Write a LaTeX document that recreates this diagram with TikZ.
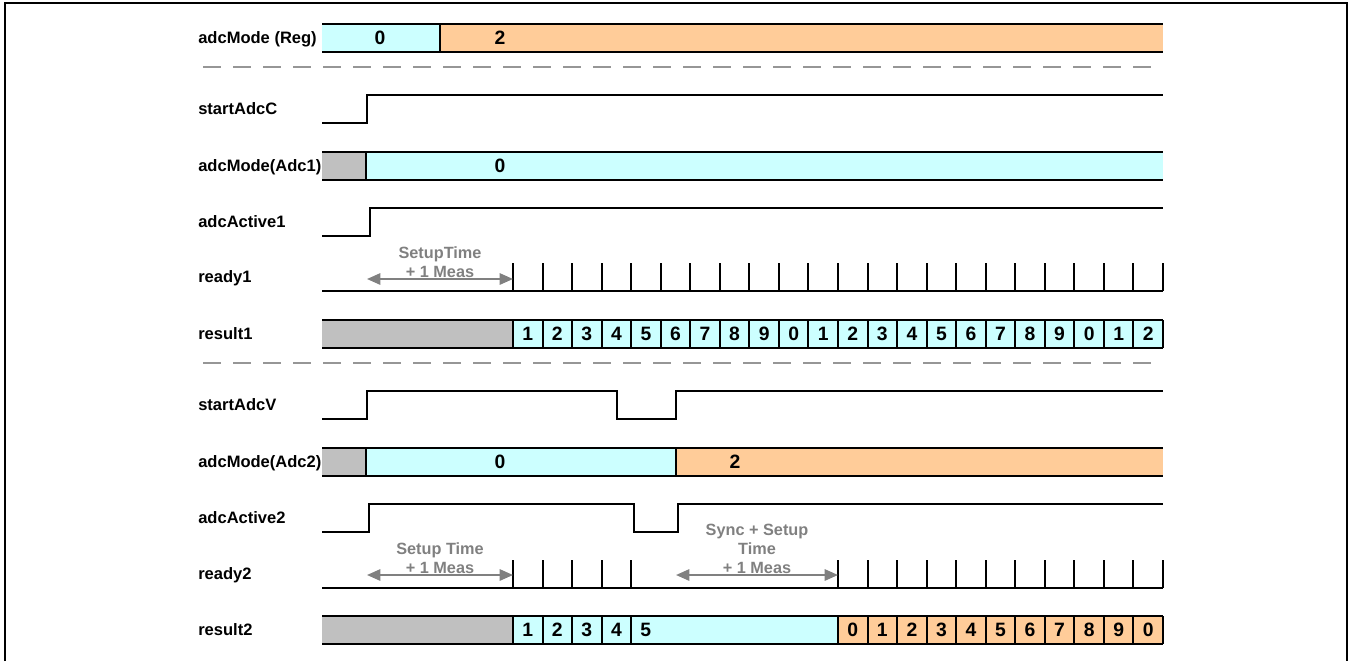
\documentclass[tikz,border=0pt]{standalone}
\usepackage{fontspec}
\setmainfont{Liberation Sans}
\usetikzlibrary{arrows.meta}
\definecolor{cyanfill}{RGB}{204,255,255}
\definecolor{orangefill}{RGB}{255,204,153}
\definecolor{grayfill}{RGB}{192,192,192}
\definecolor{annot}{RGB}{128,128,128}
\definecolor{dashgray}{RGB}{150,150,150}
\begin{document}
\begin{tikzpicture}[x=0.75pt,y=-0.75pt,
  sig/.style={line width=1.5pt},
  lbl/.style={anchor=west, font=\fontsize{12.4}{14}\selectfont\bfseries, inner sep=0pt, text height=8.9pt, text depth=0pt},
  val/.style={font=\fontsize{14.5}{16}\selectfont\bfseries, inner sep=0pt, text height=10.4pt, text depth=0pt},
  note/.style={anchor=north, font=\fontsize{12.2}{14.25}\selectfont\bfseries, text=annot, inner sep=0pt, align=center},
  sepline/.style={dashgray, line width=1.5pt, dash pattern=on 13.75pt off 8.75pt},
  dur/.style={annot, line width=1.4pt, {Triangle[length=10pt,width=8.5pt]}-{Triangle[length=10pt,width=8.5pt]}}
]
\useasboundingbox (0,0) rectangle (1349,661);
% frame
\draw[line width=1.5pt] (5,661) -- (5,3) -- (1347,3) -- (1347,661);

% labels
\node[lbl] (lreg) at (198,38) {adcMode (Reg)};
\node[lbl] (lsc)  at (198,109) {startAdcC};
\node[lbl] (la1)  at (198,166) {adcMode(Adc1)};
\node[lbl] (lac1) at (198,222) {adcActive1};
\node[lbl] (lr1)  at (198,277) {ready1};
\node[lbl] (lres1) at (198,334) {result1};
\node[lbl] (lsv)  at (198,405) {startAdcV};
\node[lbl] (la2)  at (198,462) {adcMode(Adc2)};
\node[lbl] (lac2) at (198,518) {adcActive2};
\node[lbl] (lr2)  at (198,574) {ready2};
\node[lbl] (lres2) at (198,630) {result2};

% separators
\draw[sepline] (203,67) -- (1151,67);
\draw[sepline] (203,363) -- (1151,363);

% adcMode (Reg)
\fill[cyanfill] (322,24) rectangle (440,52);
\fill[orangefill] (440,24) rectangle (1163,52);
\draw[sig] (322,24) -- (1163,24) (322,52) -- (1163,52) (440,24) -- (440,52);
\node[val] (reg0) at (380,38) {0};
\node[val] (reg2) at (500,38) {2};

% startAdcC
\draw[sig] (322,123) -- (367,123) -- (367,95) -- (1163,95);

% adcMode(Adc1)
\fill[grayfill] (322,152) rectangle (366,180);
\fill[cyanfill] (366,152) rectangle (1163,180);
\draw[sig] (322,152) -- (1163,152) (322,180) -- (1163,180) (366,152) -- (366,180);
\node[val] (a10) at (500,166) {0};

% adcActive1
\draw[sig] (322,236) -- (370,236) -- (370,208) -- (1163,208);

% ready1
\draw[sig] (322,291) -- (1163,291);
\foreach \i in {0,...,22} {
  \draw[sig] ({513+\i*29.5455},291) -- ({513+\i*29.5455},263);
}
\coordinate (s1a) at (367,279);
\coordinate (s1b) at (513,279);
\draw[dur] (s1a) -- (s1b);
\node[note] (n1) at (440,246) {SetupTime\\+ 1 Meas};

% result1
\fill[grayfill] (322,320) rectangle (513,348);
\fill[cyanfill] (513,320) rectangle (1163,348);
\draw[sig] (322,320) -- (1163,320) (322,348) -- (1163,348);
\foreach \i in {0,...,21} {
  \pgfmathtruncatemacro{\d}{mod(\i+1,10)}
  \draw[sig] ({513+\i*29.5455},320) -- ({513+\i*29.5455},348);
  \node[val] (c1\i) at ({513+(\i+0.5)*29.5455},334) {\d};
}
\draw[sig] (1163,320) -- (1163,348);

% startAdcV
\draw[sig] (322,419) -- (367,419) -- (367,391) -- (617,391) -- (617,419) -- (676,419) -- (676,391) -- (1163,391);

% adcMode(Adc2)
\fill[grayfill] (322,448) rectangle (366,476);
\fill[cyanfill] (366,448) rectangle (676,476);
\fill[orangefill] (676,448) rectangle (1163,476);
\draw[sig] (322,448) -- (1163,448) (322,476) -- (1163,476) (366,448) -- (366,476) (676,448) -- (676,476);
\node[val] (a20) at (500,462) {0};
\node[val] (a22) at (735,462) {2};

% adcActive2
\draw[sig] (322,532) -- (369,532) -- (369,504) -- (634,504) -- (634,532) -- (678,532) -- (678,504) -- (1163,504);

% ready2
\draw[sig] (322,588) -- (1163,588);
\foreach \i in {0,...,4,11,12,...,22} {
  \draw[sig] ({513+\i*29.5455},588) -- ({513+\i*29.5455},560);
}
\coordinate (s2a) at (367,575);
\coordinate (s2b) at (513,575);
\draw[dur] (s2a) -- (s2b);
\node[note] (n2) at (440,542.5) {Setup Time\\+ 1 Meas};
\coordinate (s3a) at (676,575);
\coordinate (s3b) at (838,575);
\draw[dur] (s3a) -- (s3b);
\node[note] (n3) at (757,523.5) {Sync + Setup\\Time\\+ 1 Meas};

% result2
\fill[grayfill] (322,616) rectangle (513,644);
\fill[cyanfill] (513,616) rectangle (838,644);
\fill[orangefill] (838,616) rectangle (1163,644);
\draw[sig] (322,616) -- (1163,616) (322,644) -- (1163,644);
\foreach \i in {0,...,3} {
  \pgfmathtruncatemacro{\d}{\i+1}
  \draw[sig] ({513+\i*29.5455},616) -- ({513+\i*29.5455},644);
  \node[val] (c2\i) at ({513+(\i+0.5)*29.5455},630) {\d};
}
\draw[sig] (631.18,616) -- (631.18,644);
\node[val,anchor=west] (c25) at (640,630) {5};
\foreach \i in {11,...,21} {
  \pgfmathtruncatemacro{\d}{mod(\i-11,10)}
  \draw[sig] ({513+\i*29.5455},616) -- ({513+\i*29.5455},644);
  \node[val] (c3\i) at ({513+(\i+0.5)*29.5455},630) {\d};
}
\draw[sig] (1163,616) -- (1163,644);
\end{tikzpicture}
\end{document}
